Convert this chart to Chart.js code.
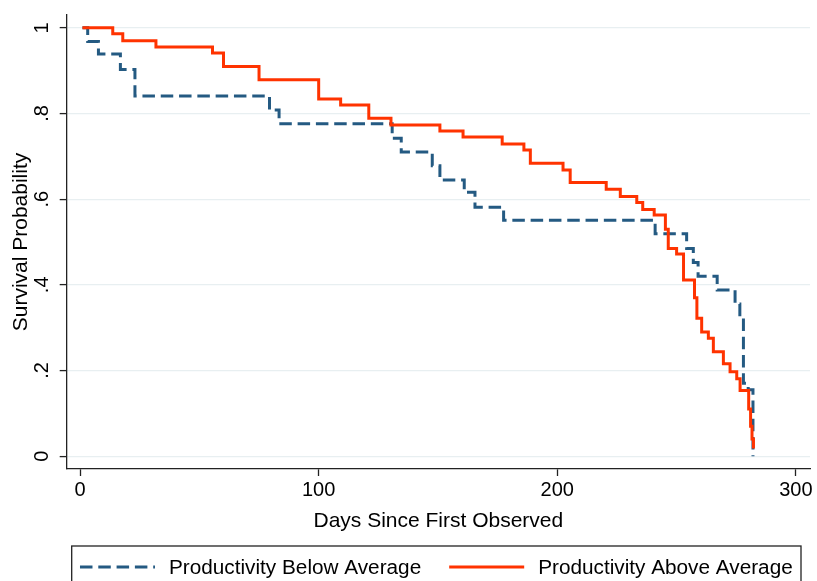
<!DOCTYPE html>
<html>
<head>
<meta charset="utf-8">
<script src="https://cdn.jsdelivr.net/npm/chart.js@4"></script>
<style>
  html, body { margin: 0; padding: 0; background: #fff; }
  canvas { display: block; }
</style>
</head>
<body>
<canvas id="survivalChart" width="817" height="581"></canvas>
<script>
// Kaplan-Meier estimates (day, survival)
const belowDays = [1, 3.2, 7.7, 16.9, 23, 79.4, 83.4, 130.8, 134.6, 147.6, 150.8, 161, 165.5, 177.5, 241, 254.2, 257, 259, 267, 274.5, 276.5, 278, 280, 282];
const belowSurv = [1, 0.968, 0.939, 0.903, 0.841, 0.808, 0.776, 0.742, 0.710, 0.678, 0.645, 0.616, 0.581, 0.551, 0.519, 0.485, 0.452, 0.42, 0.388, 0.355, 0.324, 0.17, 0.155, 0];

const aboveDays = [1, 13.7, 17.9, 31.8, 55.5, 60.1, 75, 100, 109.2, 121, 130.3, 150.8, 160.5, 176.9, 186, 188.7, 202.4, 205.4, 220.5, 226.4, 233.3, 235.8, 240.6, 245.3, 246.5, 250, 252.9, 257.5, 258.5, 260.5, 263.3, 265.4, 269.6, 272.4, 275.2, 276.6, 280.2, 281, 281.6, 282.2];
const aboveSurv = [1, 0.986, 0.970, 0.955, 0.941, 0.910, 0.879, 0.834, 0.820, 0.789, 0.773, 0.759, 0.745, 0.729, 0.715, 0.684, 0.668, 0.639, 0.623, 0.606, 0.592, 0.576, 0.563, 0.53, 0.485, 0.472, 0.411, 0.37, 0.322, 0.29, 0.275, 0.244, 0.216, 0.197, 0.181, 0.153, 0.11, 0.07, 0.04, 0.018];

const seriesNames = ['Productivity Below Average', 'Productivity Above Average'];

const xTicks = [0, 100, 200, 300];
const xTickLabels = ['0', '100', '200', '300'];
const yTicks = [0, 0.2, 0.4, 0.6, 0.8, 1];
const yTickLabels = ['0', '.2', '.4', '.6', '.8', '1'];

const FONT = "'Liberation Sans', Arial, Helvetica, sans-serif";

function toPoints(xs, ys) {
    return xs.map((x, i) => ({ x: x, y: ys[i] }));
}

// boxed legend under the plot, drawn with the datasets' own styles
const boxedLegend = {
    id: 'boxedLegend',
    afterDraw(chart) {
        const ctx = chart.ctx;
        const area = chart.chartArea;
        const top = area.bottom + 77;
        const midY = top + 21;
        const sample = 75, gap = 14, itemGap = 28;
        ctx.save();
        ctx.font = '20.75px ' + FONT;
        const items = chart.data.datasets.map(ds => ({ ds: ds, w: sample + gap + ctx.measureText(ds.label).width }));
        const total = items.reduce((s, it) => s + it.w, 0) + itemGap * (items.length - 1);
        const boxLeft = area.left + 5, boxRight = area.right - 9;
        ctx.strokeStyle = '#222';
        ctx.lineWidth = 1.3;
        ctx.strokeRect(boxLeft, top, boxRight - boxLeft, 60);
        let x = (boxLeft + boxRight) / 2 - total / 2;
        items.forEach(it => {
            ctx.beginPath();
            ctx.setLineDash(it.ds.borderDash || []);
            ctx.strokeStyle = it.ds.borderColor;
            ctx.lineWidth = it.ds.borderWidth;
            ctx.moveTo(x, midY);
            ctx.lineTo(x + sample, midY);
            ctx.stroke();
            ctx.setLineDash([]);
            ctx.fillStyle = '#000';
            ctx.textAlign = 'left';
            ctx.textBaseline = 'middle';
            ctx.fillText(it.ds.label, x + sample + gap, midY + 1);
            x += it.w + itemGap;
        });
        ctx.restore();
    }
};

document.addEventListener("DOMContentLoaded", function () {
    const ctx = document.getElementById('survivalChart').getContext('2d');
    new Chart(ctx, {
        type: 'line',
        data: {
            datasets: [{
                label: seriesNames[0],
                data: toPoints(belowDays, belowSurv),
                borderColor: '#245a82',
                borderWidth: 3,
                borderDash: [12.5, 5.8],
                stepped: 'before',
                pointRadius: 0,
                fill: false,
                order: 1
            }, {
                label: seriesNames[1],
                data: toPoints(aboveDays, aboveSurv),
                borderColor: '#ff3300',
                borderWidth: 3,
                stepped: 'before',
                pointRadius: 0,
                fill: false,
                order: 0
            }]
        },
        options: {
            responsive: false,
            animation: false,
            layout: { padding: { top: 15, right: 7, left: 0, bottom: 35 } },
            plugins: {
                legend: { display: false },
                tooltip: { enabled: false }
            },
            scales: {
                x: {
                    type: 'linear',
                    min: -5.6,
                    max: 305.9,
                    afterBuildTicks: s => { s.ticks = xTicks.map(v => ({ value: v })); },
                    afterFit: s => { s.height = 77; },
                    ticks: {
                        callback: (v, i) => xTickLabels[i],
                        font: { family: FONT, size: 20 },
                        color: '#000',
                        padding: 2,
                        maxRotation: 0
                    },
                    grid: { drawOnChartArea: false, tickLength: 7, tickColor: '#222', tickWidth: 1.3 },
                    border: { color: '#222', width: 1.3 },
                    title: {
                        display: true,
                        text: 'Days Since First Observed',
                        font: { family: FONT, size: 21 },
                        color: '#000',
                        padding: { top: 0, bottom: 12 }
                    }
                },
                y: {
                    min: -0.03,
                    max: 1.03,
                    afterBuildTicks: s => { s.ticks = yTicks.map(v => ({ value: v })); },
                    afterFit: s => { s.width = 66.7; s.paddingTop = 5; s.paddingBottom = 5; },
                    ticks: {
                        callback: (v, i) => yTickLabels[i],
                        font: { family: FONT, size: 20 },
                        color: '#000',
                        minRotation: 90,
                        maxRotation: 90,
                        crossAlign: 'center',
                        padding: 9
                    },
                    grid: { color: '#e8eff1', lineWidth: 1.2, tickLength: 7, tickColor: '#222', tickWidth: 1.3 },
                    border: { color: '#222', width: 1.3 },
                    title: {
                        display: true,
                        text: 'Survival Probability',
                        font: { family: FONT, size: 21 },
                        color: '#000',
                        padding: { top: 9, bottom: 0 }
                    }
                }
            }
        },
        plugins: [boxedLegend]
    });
});
</script>
</body>
</html>
